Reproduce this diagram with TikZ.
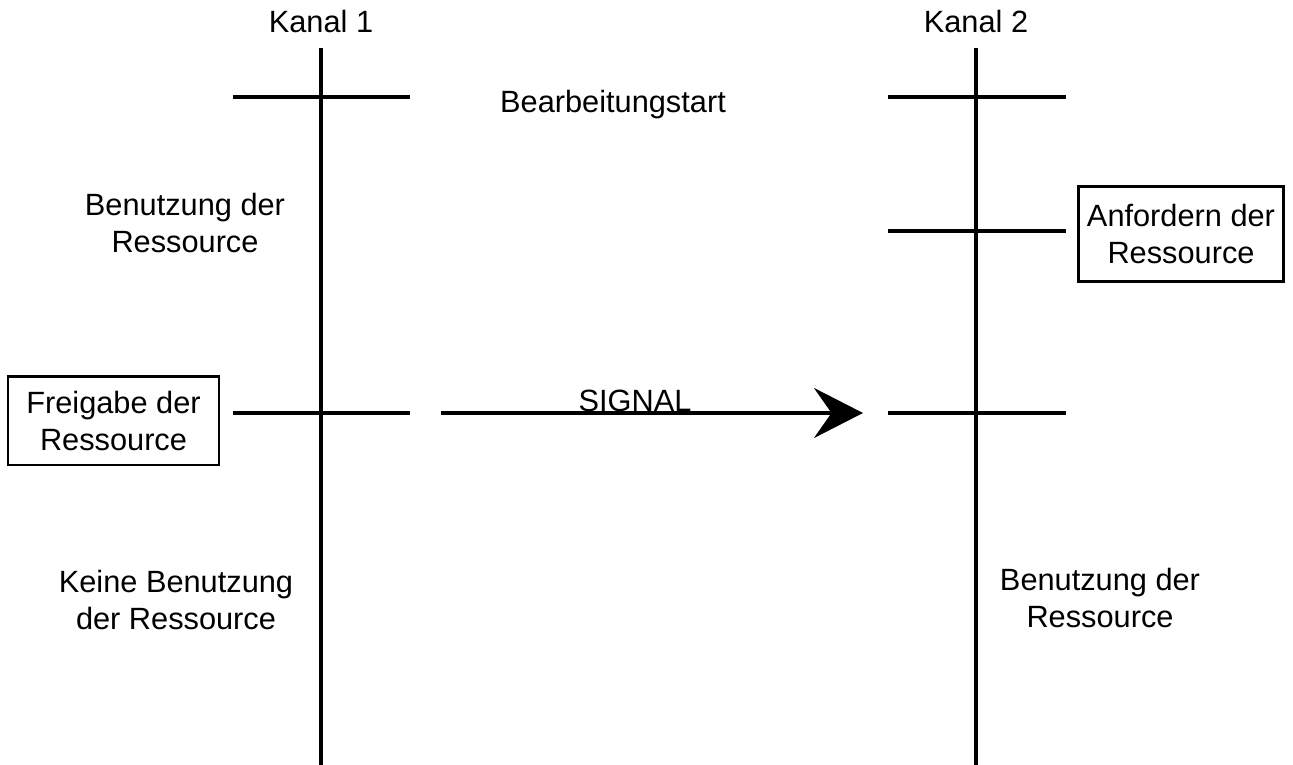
\documentclass[tikz,border=0pt]{standalone}
\usepackage{fontspec}
\setmainfont{Liberation Sans}
\usetikzlibrary{positioning,arrows.meta}

\begin{document}
\begin{tikzpicture}[
  lane/.style={line width=1.9pt},
  tick/.style={line width=1.9pt},
  lbl/.style={inner sep=0pt,align=center,font=\fontsize{17.5}{21}\selectfont},
  rbox/.style={draw,line width=1.7pt,align=center,font=\fontsize{17.5}{21}\selectfont},
  sig/.style={-{Stealth[length=0.98cm,width=1.0cm,inset=0.35cm]},line width=1.9pt},
]
\useasboundingbox (0,0) rectangle (25.86,15.3);
% ---------- channels ----------
\coordinate (k1top) at (6.42,14.34);
\coordinate (k1bot) at (6.42,0);
\coordinate (k2top) at (19.52,14.34);
\coordinate (k2bot) at (19.52,0);
\draw[lane] (k1top) -- (k1bot);
\draw[lane] (k2top) -- (k2bot);
\node[lbl] (kan1) at (6.42,14.86) {Kanal 1};
\node[lbl] (kan2) at (19.52,14.86) {Kanal 2};
% ---------- time marks ----------
\coordinate (s1a) at (4.66,13.36);  \coordinate (s1b) at (8.2,13.36);
\coordinate (f1a) at (4.66,7.04);   \coordinate (f1b) at (8.2,7.04);
\coordinate (s2a) at (17.76,13.36); \coordinate (s2b) at (21.32,13.36);
\coordinate (a2a) at (17.76,10.68); \coordinate (a2b) at (21.32,10.68);
\coordinate (f2a) at (17.76,7.04);  \coordinate (f2b) at (21.32,7.04);
\draw[tick] (s1a) -- (s1b);
\draw[tick] (f1a) -- (f1b);
\draw[tick] (s2a) -- (s2b);
\draw[tick] (a2a) -- (a2b);
\draw[tick] (f2a) -- (f2b);
\node[lbl] (start) at (12.26,13.2) {Bearbeitungstart};
% ---------- phases ----------
\node[lbl] (use1) at (3.7,10.84) {Benutzung der\\Ressource};
\node[lbl] (nouse1) at (3.52,3.3) {Keine Benutzung\\der Ressource};
\node[lbl] (use2) at (22.0,3.34) {Benutzung der\\Ressource};
% ---------- events ----------
\node[rbox,minimum width=4.22cm,minimum height=1.76cm] (free) at (2.27,6.88) {Freigabe der\\Ressource};
\node[rbox,minimum width=4.1cm,minimum height=1.9cm] (req) at (23.62,10.62) {Anfordern der\\Ressource};
% ---------- signal ----------
\coordinate (sigA) at (8.82,7.04);
\coordinate (sigB) at (17.26,7.04);
\draw[sig] (sigA) -- (sigB);
\node[lbl] (signal) at (12.7,7.28) {SIGNAL};
\end{tikzpicture}
\end{document}
